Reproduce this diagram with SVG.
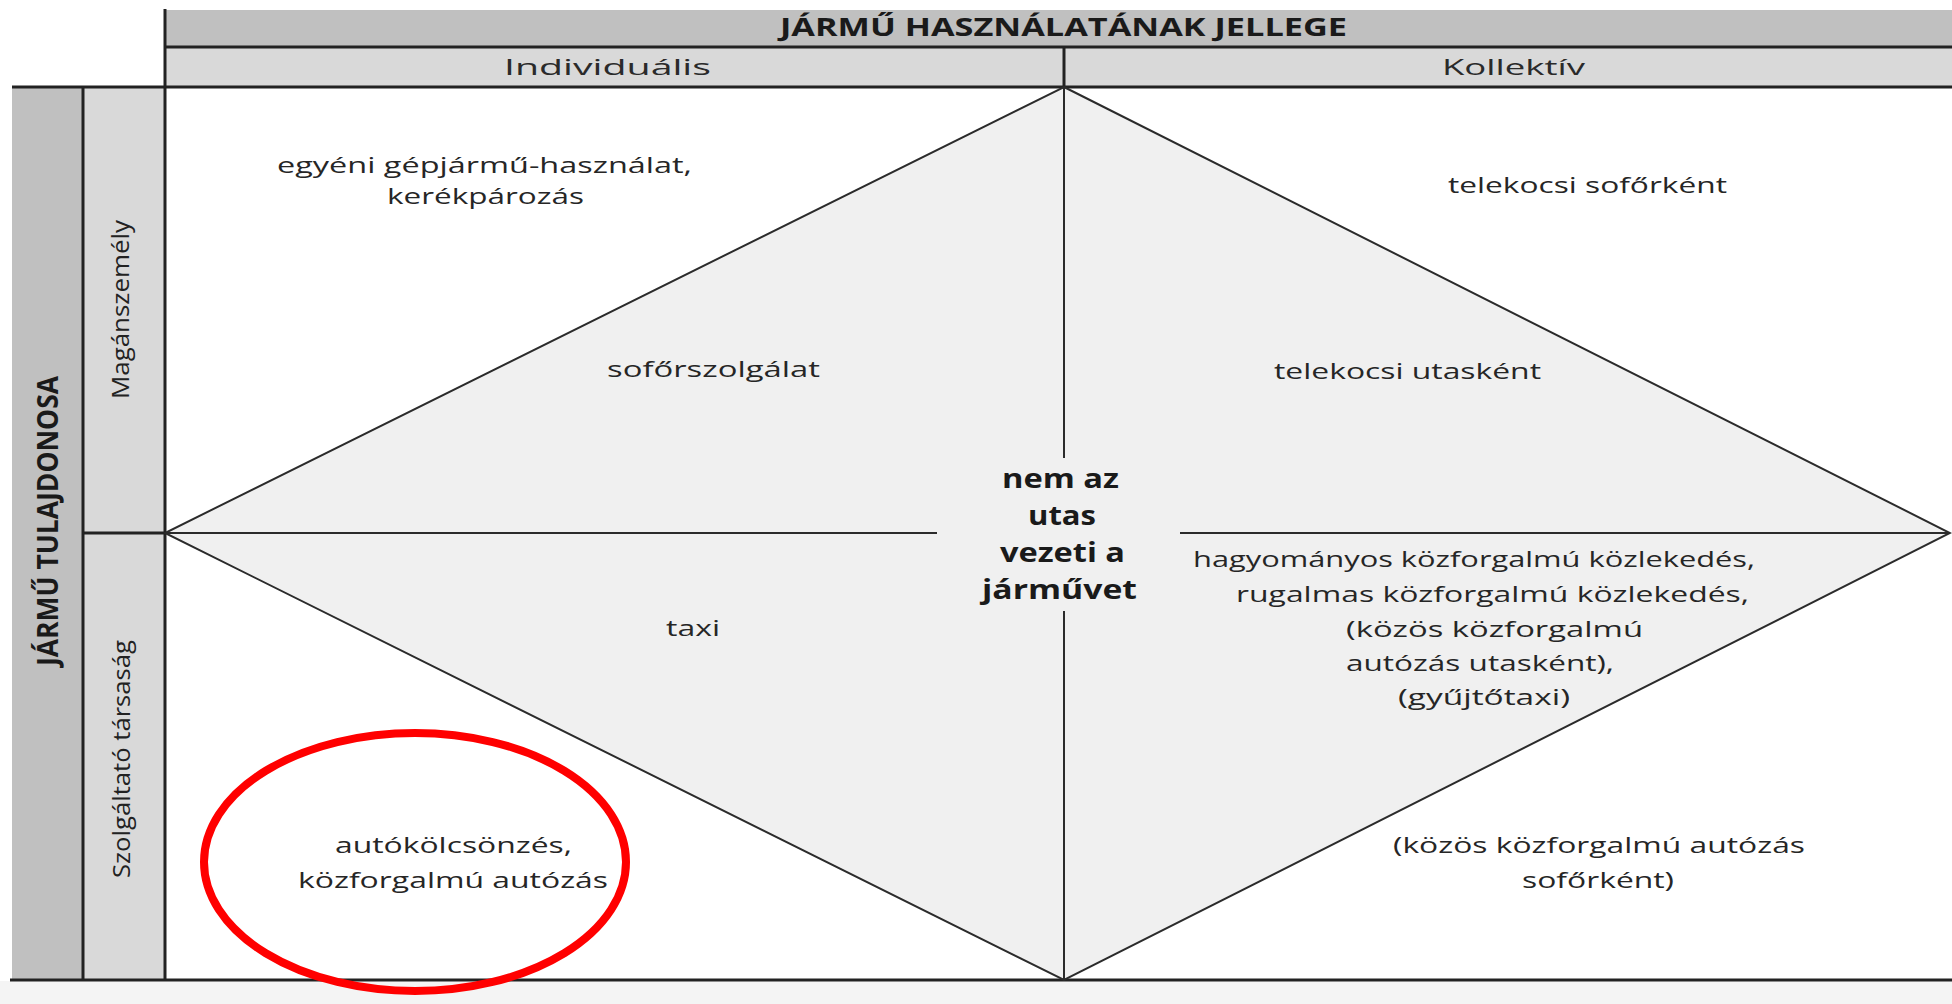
<svg xmlns="http://www.w3.org/2000/svg" width="1952" height="1004" viewBox="0 0 1952 1004">
  <style>
    .t { font-family: "Open Sans", "Liberation Sans", sans-serif; font-size: 21px; fill: #262626; }
    .hb { font-family: "Open Sans", "Liberation Sans", sans-serif; font-size: 25px; font-weight: bold; fill: #1a1a1a; }
    .sub { font-family: "Open Sans", "Liberation Sans", sans-serif; font-size: 22px; fill: #2a2a2a; }
    .side { font-family: "Open Sans", "Liberation Sans", sans-serif; font-size: 24px; fill: #222; }
    .sideb { font-family: "Open Sans", "Liberation Sans", sans-serif; font-size: 28px; font-weight: bold; fill: #1a1a1a; }
    .ctr { font-family: "Open Sans", "Liberation Sans", sans-serif; font-size: 26px; font-weight: bold; fill: #1a1a1a; }
    .grid { stroke: #222; stroke-width: 3; fill: none; }
    .edge { stroke: #2b2b2b; stroke-width: 2; fill: none; }
  </style>

  <!-- page background -->
  <rect x="0" y="0" width="1952" height="1004" fill="#ffffff"/>
  <rect x="0" y="981" width="1952" height="23" fill="#f4f4f4"/>

  <!-- column header: usage type -->
  <g id="header-usage">
    <rect x="165" y="10" width="1787" height="37" fill="#c0c0c0"/>
    <text class="hb" x="780" y="36" textLength="567" lengthAdjust="spacingAndGlyphs">JÁRMŰ HASZNÁLATÁNAK JELLEGE</text>
  </g>
  <g id="col-individual">
    <rect x="165" y="47" width="899" height="40" fill="#d9d9d9"/>
    <text class="sub" x="504" y="75" textLength="207" lengthAdjust="spacingAndGlyphs">Individuális</text>
  </g>
  <g id="col-collective">
    <rect x="1064" y="47" width="888" height="40" fill="#d9d9d9"/>
    <text class="sub" x="1442" y="75" textLength="143" lengthAdjust="spacingAndGlyphs">Kollektív</text>
  </g>

  <!-- row header: owner -->
  <g id="header-owner">
    <rect x="12" y="87" width="71" height="893" fill="#c0c0c0"/>
    <text class="sideb" transform="translate(58,521) rotate(-90)" x="-145" y="0" textLength="290" lengthAdjust="spacingAndGlyphs">JÁRMŰ TULAJDONOSA</text>
  </g>
  <g id="row-private">
    <rect x="83" y="87" width="82" height="446" fill="#d9d9d9"/>
    <text class="side" transform="translate(129,309) rotate(-90)" x="-90" y="0" textLength="179" lengthAdjust="spacingAndGlyphs">Magánszemély</text>
  </g>
  <g id="row-company">
    <rect x="83" y="533" width="82" height="447" fill="#d9d9d9"/>
    <text class="side" transform="translate(130,759) rotate(-90)" x="-119" y="0" textLength="238" lengthAdjust="spacingAndGlyphs">Szolgáltató társaság</text>
  </g>

  <!-- central diamond area -->
  <g id="diamond">
    <polygon points="1064,87 1950,533 1064,980 165,533" fill="#f0f0f0"/>
  </g>

  <!-- table rules and diamond edges -->
  <g id="connectors">
    <line class="grid" x1="165" y1="9" x2="165" y2="981"/>
    <line class="grid" x1="83" y1="87" x2="83" y2="981"/>
    <line class="grid" x1="165" y1="47" x2="1952" y2="47"/>
    <line class="grid" x1="12" y1="87" x2="1952" y2="87"/>
    <line class="grid" x1="83" y1="533" x2="165" y2="533"/>
    <line class="grid" x1="10" y1="980" x2="1952" y2="980"/>
    <line class="grid" x1="1064" y1="47" x2="1064" y2="87"/>
    <polygon class="edge" points="1064,87 1950,533 1064,980 165,533"/>
    <line class="edge" x1="1064" y1="87" x2="1064" y2="458"/>
    <line class="edge" x1="1064" y1="611" x2="1064" y2="980"/>
    <line class="edge" x1="165" y1="533" x2="937" y2="533"/>
    <line class="edge" x1="1180" y1="533" x2="1950" y2="533"/>
  </g>

  <!-- quadrant labels -->
  <g id="q-private-individual">
    <text class="t" x="277" y="173" textLength="415" lengthAdjust="spacingAndGlyphs">egyéni gépjármű-használat,</text>
    <text class="t" x="387" y="204" textLength="197" lengthAdjust="spacingAndGlyphs">kerékpározás</text>
  </g>
  <g id="q-private-collective">
    <text class="t" x="1448" y="193" textLength="279" lengthAdjust="spacingAndGlyphs">telekocsi sofőrként</text>
  </g>
  <g id="d-chauffeur">
    <text class="t" x="607" y="377" textLength="213" lengthAdjust="spacingAndGlyphs">sofőrszolgálat</text>
  </g>
  <g id="d-carpool-passenger">
    <text class="t" x="1274" y="379" textLength="267" lengthAdjust="spacingAndGlyphs">telekocsi utasként</text>
  </g>
  <g id="d-taxi">
    <text class="t" x="666" y="636" textLength="54" lengthAdjust="spacingAndGlyphs">taxi</text>
  </g>
  <g id="d-public-transport">
    <text class="t" x="1193" y="567" textLength="562" lengthAdjust="spacingAndGlyphs">hagyományos közforgalmú közlekedés,</text>
    <text class="t" x="1236" y="602" textLength="513" lengthAdjust="spacingAndGlyphs">rugalmas közforgalmú közlekedés,</text>
    <text class="t" x="1346" y="637" textLength="297" lengthAdjust="spacingAndGlyphs">(közös közforgalmú</text>
    <text class="t" x="1346" y="671" textLength="268" lengthAdjust="spacingAndGlyphs">autózás utasként),</text>
    <text class="t" x="1398" y="705" textLength="172" lengthAdjust="spacingAndGlyphs">(gyűjtőtaxi)</text>
  </g>
  <g id="q-company-individual">
    <text class="t" x="335" y="853" textLength="237" lengthAdjust="spacingAndGlyphs">autókölcsönzés,</text>
    <text class="t" x="298" y="888" textLength="310" lengthAdjust="spacingAndGlyphs">közforgalmú autózás</text>
  </g>
  <g id="q-company-collective">
    <text class="t" x="1393" y="853" textLength="412" lengthAdjust="spacingAndGlyphs">(közös közforgalmú autózás</text>
    <text class="t" x="1522" y="888" textLength="152" lengthAdjust="spacingAndGlyphs">sofőrként)</text>
  </g>

  <!-- centre label -->
  <g id="center-label">
    <text class="ctr" x="1002" y="488" textLength="117" lengthAdjust="spacingAndGlyphs">nem az</text>
    <text class="ctr" x="1028" y="525" textLength="68" lengthAdjust="spacingAndGlyphs">utas</text>
    <text class="ctr" x="1000" y="562" textLength="125" lengthAdjust="spacingAndGlyphs">vezeti a</text>
    <text class="ctr" x="982" y="599" textLength="155" lengthAdjust="spacingAndGlyphs">járművet</text>
  </g>

  <!-- highlight ring -->
  <g id="highlight">
    <ellipse cx="415" cy="862" rx="211" ry="129" fill="none" stroke="#ff0000" stroke-width="8"/>
  </g>
</svg>
